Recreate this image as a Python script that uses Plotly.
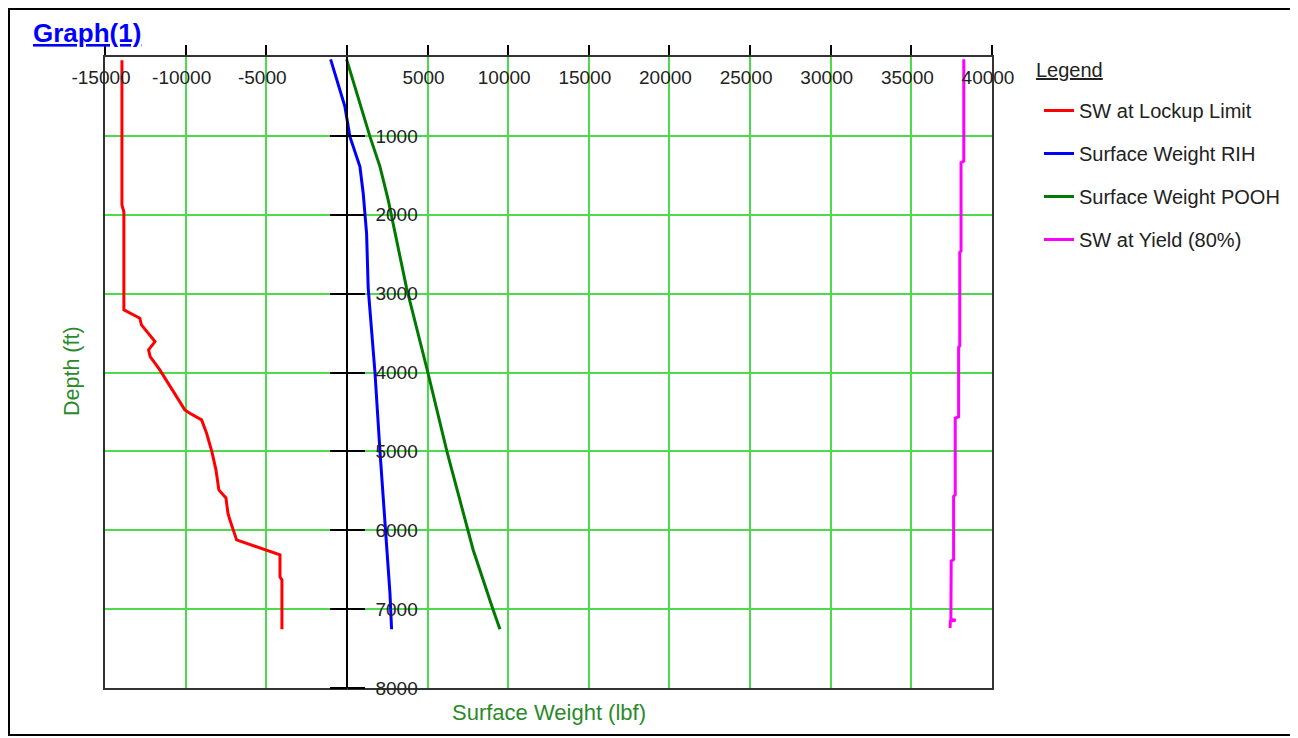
import plotly.graph_objects as go

# ---------------- data ----------------
lockup_depth = [40, 1875, 1965, 3207, 3311, 3397, 3608, 3713, 3798, 3967, 4474, 4516, 4601,
                4770, 5006, 5234, 5488, 5590, 5780, 5868, 6122, 6248, 6312, 6590, 6629, 7255]
lockup_sw = [-13950, -13950, -13830, -13830, -12840, -12740, -11900, -12300, -12200, -11600,
             -10050, -9740, -9010, -8700, -8370, -8120, -7940, -7500, -7380, -7260, -6840,
             -4980, -4150, -4150, -4030, -4030]

rih_depth = [30, 630, 1010, 1390, 1727, 2235, 2930, 4000, 5000, 6000, 6800, 7255]
rih_sw = [-1010, -124, 186, 806, 1010, 1220, 1320, 1740, 2050, 2400, 2670, 2770]

pooh_depth = [30, 1010, 1390, 1812, 2930, 4000, 5000, 6000, 6250, 7010, 7255]
pooh_sw = [-20, 1430, 2050, 2560, 3700, 5020, 6200, 7500, 7830, 9070, 9490]

yield_depth = [30, 1320, 1340, 2460, 2480, 3660, 3680, 4560, 4580, 5550, 5570, 6370, 6390,
               7130, 7140, 7150, 7240]
yield_sw = [38250, 38250, 38080, 38080, 38000, 38000, 37930, 37930, 37720, 37720, 37620,
            37620, 37470, 37450, 37750, 37420, 37400]

x_range = [-15000, 40000]
y_range = [8000, 0]
x_ticks = list(range(-15000, 40001, 5000))
x_ticktext = ["" if v == 0 else str(v) for v in x_ticks]
y_ticks = list(range(1000, 8001, 1000))
y_ticktext = [str(v) for v in y_ticks]

series = [
    ("SW at Lockup Limit", lockup_sw, lockup_depth, "#ff0000"),
    ("Surface Weight RIH", rih_sw, rih_depth, "#0000ff"),
    ("Surface Weight POOH", pooh_sw, pooh_depth, "#007a00"),
    ("SW at Yield (80%)", yield_sw, yield_depth, "#ff00ff"),
]

FONT = "Liberation Sans, Arial, sans-serif"
GRID = "#4ddb4d"
TITLE_GREEN = "#2a8a2a"

# page offset (browser body margin) compensation: plot area at page x 105..992, y 57..688
fig = go.Figure()
for i, (name, xs, ys, col) in enumerate(series):
    fig.add_trace(go.Scatter(
        x=xs, y=ys, mode="lines", name=name,
        line=dict(color=col, width=3),
        legendgroup=f"g{i}",
    ))

axis_pos = (0 - x_range[0]) / (x_range[1] - x_range[0])


def px(page_x):
    return (page_x - 105) / 887


def py(page_y):
    return (688 - page_y) / 631


fig.update_layout(
    width=1290, height=730,
    margin=dict(l=97, r=306, t=49, b=50),
    paper_bgcolor="white", plot_bgcolor="white",
    font=dict(family=FONT, size=19, color="#222222"),
    showlegend=True,
    legend=dict(
        x=px(1039), y=py(91), xanchor="left", yanchor="top",
        font=dict(family=FONT, size=20, color="#222222"),
        tracegroupgap=14,
        bgcolor="rgba(0,0,0,0)",
    ),
    xaxis=dict(
        range=x_range, side="top", tickvals=x_ticks, ticktext=x_ticktext,
        ticks="outside", ticklen=10, tickcolor="black", tickwidth=1.5,
        ticklabelposition="inside", ticklabeloverflow="allow",
        ticklabelstandoff=15, ticklabelshift=-4,
        tickfont=dict(family=FONT, size=19, color="#222222"),
        showline=True, linecolor="#333333", linewidth=2, mirror=True,
        showgrid=True, gridcolor=GRID, gridwidth=1.5, zeroline=False,
    ),
    yaxis=dict(
        range=y_range, anchor="free", position=axis_pos, side="right",
        tickvals=y_ticks, ticktext=y_ticktext, ticks="outside", ticklen=17,
        tickcolor="black", tickwidth=1.5, ticklabelstandoff=7,
        tickfont=dict(family=FONT, size=19, color="#222222"),
        showline=True, linecolor="black", linewidth=1.5,
        showgrid=True, gridcolor=GRID, gridwidth=1.5, zeroline=False,
    ),
    yaxis2=dict(
        range=y_range, overlaying="y", anchor="free", position=axis_pos, side="left",
        tickvals=y_ticks, ticks="outside", ticklen=17, tickcolor="black", tickwidth=1.5,
        showticklabels=False, showline=False, showgrid=False, zeroline=False,
    ),
    yaxis3=dict(
        range=y_range, overlaying="y", anchor="x", side="left",
        showticklabels=False, ticks="", showline=True, linecolor="#333333", linewidth=2,
        mirror=True, showgrid=False, zeroline=False,
    ),
)

# invisible helper traces so overlay axes render
fig.add_trace(go.Scatter(x=[None], y=[None], yaxis="y2", showlegend=False, hoverinfo="skip"))
fig.add_trace(go.Scatter(x=[None], y=[None], yaxis="y3", showlegend=False, hoverinfo="skip"))

# outer frame
fig.add_shape(type="rect", xref="paper", yref="paper",
              x0=px(9), x1=px(1295), y0=py(735), y1=py(9),
              line=dict(color="black", width=2), fillcolor="rgba(0,0,0,0)", layer="below")

# title
fig.add_annotation(text="<b><u>Graph(1)</u></b>", xref="paper", yref="paper",
                   x=px(31), y=py(33), xanchor="left", yanchor="middle",
                   showarrow=False, font=dict(family=FONT, size=26, color="#0000ff"))
# legend heading
fig.add_annotation(text="<u>Legend</u>", xref="paper", yref="paper",
                   x=px(1034), y=py(70), xanchor="left", yanchor="middle",
                   showarrow=False, font=dict(family=FONT, size=20, color="#222222"))
# axis titles
fig.add_annotation(text="Surface Weight (lbf)", xref="paper", yref="paper",
                   x=px(549), y=py(712), xanchor="center", yanchor="middle",
                   showarrow=False, font=dict(family=FONT, size=22, color=TITLE_GREEN))
fig.add_annotation(text="Depth (ft)", xref="paper", yref="paper", textangle=-90,
                   x=px(72), y=py(371), xanchor="center", yanchor="middle",
                   showarrow=False, font=dict(family=FONT, size=21.5, color=TITLE_GREEN))

fig.write_html("out.html")
